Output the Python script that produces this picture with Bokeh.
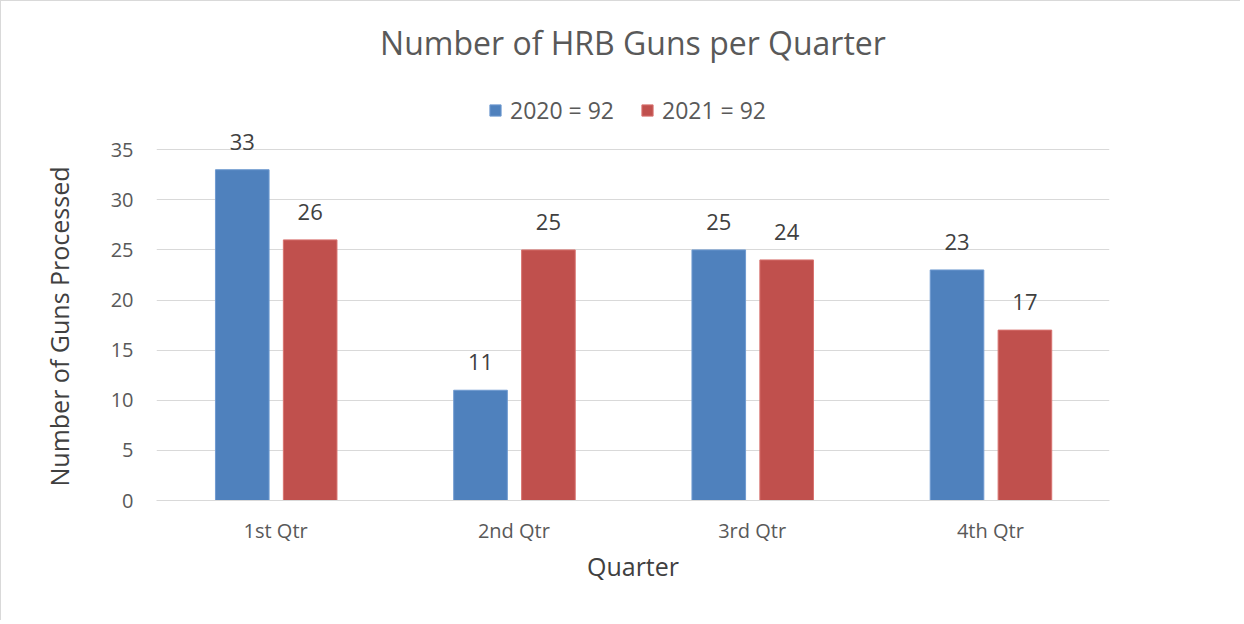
from bokeh.plotting import figure
from bokeh.models import (FactorRange, ColumnDataSource, LabelSet, Legend, LegendItem,
                          FixedTicker, Range1d, Title)
from bokeh.core.properties import value
from bokeh.transform import dodge
from bokeh.embed import file_html
from bokeh.resources import INLINE

quarters = ["1st Qtr", "2nd Qtr", "3rd Qtr", "4th Qtr"]
guns_2020 = [33, 11, 25, 23]
guns_2021 = [26, 25, 24, 17]
legend_labels = ["2020 = 92", "2021 = 92"]
y_ticks = [0, 5, 10, 15, 20, 25, 30, 35]
title_text = "Number of HRB Guns per Quarter"
x_label = "Quarter"
y_label = "Number of Guns Processed"

FONT = "Open Sans"
BLUE = "#4F81BD"
RED = "#C0504D"
TXT = "#595959"

src = ColumnDataSource(dict(q=quarters, a=guns_2020, b=guns_2021,
                            la=[str(v) for v in guns_2020], lb=[str(v) for v in guns_2021]))

p = figure(x_range=FactorRange(*quarters), y_range=Range1d(0, 42.5),
           width=1240, height=620, output_backend="svg", toolbar_location=None,
           min_border_left=155, min_border_right=132, min_border_top=73, min_border_bottom=121)
p.styles = {"border-left": "1px solid #d9d9d9", "border-top": "1px solid #d9d9d9"}

ra = p.vbar(x=dodge("q", -0.14, range=p.x_range), top="a", width=0.225, source=src,
            fill_color=BLUE, line_color="#6F9AD0")
rb = p.vbar(x=dodge("q", 0.145, range=p.x_range), top="b", width=0.225, source=src,
            fill_color=RED, line_color="#D87370")

for col, lab, off in (("a", "la", -0.14), ("b", "lb", 0.145)):
    p.add_layout(LabelSet(x=dodge("q", off, range=p.x_range), y=col, text=lab, source=src,
                          text_align="center", text_baseline="middle", y_offset=28,
                          text_font=value(FONT), text_font_size="22px", text_color="#404040"))

p.title.text = title_text
p.title.align = "center"
p.title.text_font = FONT
p.title.text_font_size = "32px"
p.title.text_font_style = "normal"
p.title.text_color = TXT
p.title.standoff = 22

# y-axis caption, placed along the 0-35 gridline span
ytitle = Title(text=y_label, align="left", offset=14, standoff=64,
               text_font=FONT, text_font_size="25px", text_font_style="normal",
               text_color="#404040")
p.add_layout(ytitle, "left")

legend = Legend(items=[LegendItem(label=legend_labels[0], renderers=[ra]),
                       LegendItem(label=legend_labels[1], renderers=[rb])],
                orientation="horizontal", location=(332, 374),
                label_text_font=FONT, label_text_font_size="23px", label_text_color=TXT,
                glyph_width=14, glyph_height=14, spacing=26, label_standoff=8,
                border_line_color=None, background_fill_alpha=0, padding=0, margin=0)
p.add_layout(legend, "center")

p.xgrid.grid_line_color = None
p.ygrid.grid_line_color = "#D9D9D9"
p.ygrid.grid_line_width = 1
p.yaxis.ticker = FixedTicker(ticks=y_ticks)
p.outline_line_color = None

for ax in (p.xaxis[0], p.yaxis[0]):
    ax.major_tick_line_color = None
    ax.minor_tick_line_color = None
    ax.major_label_text_font = FONT
    ax.major_label_text_font_size = "20px"
    ax.major_label_text_color = TXT
    ax.axis_label_text_font = FONT
    ax.axis_label_text_font_size = "25px"
    ax.axis_label_text_font_style = "normal"
    ax.axis_label_text_color = "#404040"
p.xaxis.axis_line_color = "#D9D9D9"
p.yaxis.axis_line_color = None
p.xaxis.axis_label = x_label
p.xaxis.major_label_standoff = 10
p.xaxis.axis_label_standoff = 2
p.yaxis.major_label_standoff = 17

open("out.html", "w").write(file_html(p, INLINE))
